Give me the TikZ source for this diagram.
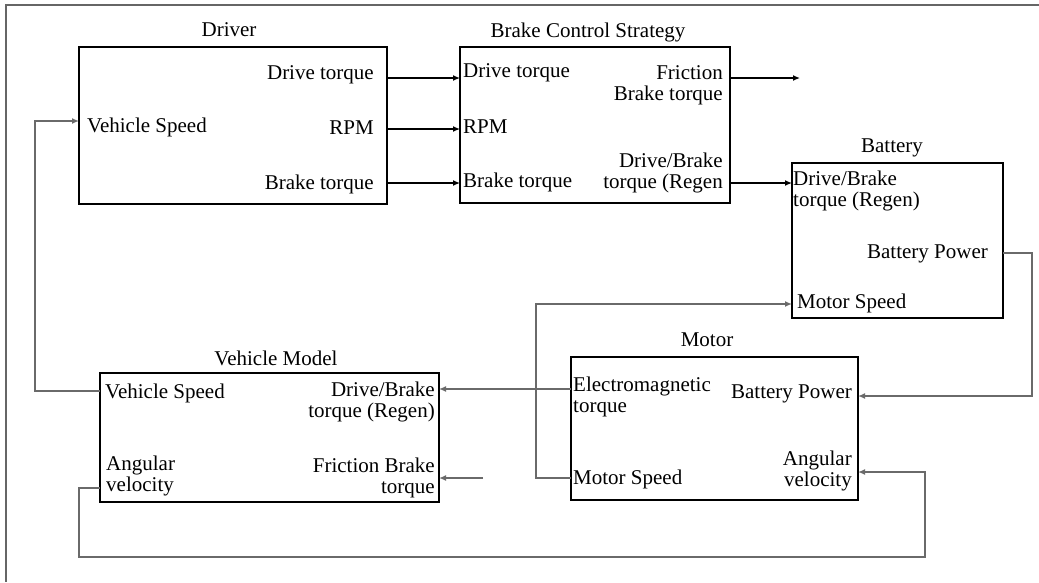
\documentclass[tikz,border=0pt]{standalone}
\usepackage{fontspec}
\setmainfont{Liberation Serif}
\usetikzlibrary{arrows.meta}
\definecolor{linegray}{HTML}{6A6A6A}
\definecolor{framegray}{HTML}{666666}
\begin{document}
\begin{tikzpicture}[x=1pt,y=-1pt,
  font=\fontsize{21}{21}\selectfont,
  blk/.style={draw=black,line width=2.7pt,inner sep=0pt,outer sep=0pt},
  ttl/.style={inner sep=0pt,anchor=base},
  lbl/.style={inner sep=0pt,align=left,anchor=base west},
  lblr/.style={inner sep=0pt,align=right,anchor=base east},
  arr/.style={-{Latex[length=7pt,width=6pt]},line width=1.3pt,draw=black},
  garr/.style={-{Latex[length=7pt,width=6pt]},line width=1.4pt,draw=linegray},
]
\useasboundingbox (0,0) rectangle (1039,582);
\draw[line width=1.6pt,draw=framegray] (1039,5) -- (6,5) -- (6,582);

% boxes
\node[blk,minimum width=308pt,minimum height=157pt] (drv) at (233,125.5) {};
\node[blk,minimum width=270pt,minimum height=156pt] (bcs) at (595,125) {};
\node[blk,minimum width=211pt,minimum height=155pt] (bat) at (897.5,240.5) {};
\node[blk,minimum width=287pt,minimum height=143pt] (mot) at (714.5,428.5) {};
\node[blk,minimum width=339pt,minimum height=129pt] (veh) at (269.5,437.5) {};

% titles
\node[ttl] (drvT) at (229,36) {Driver};
\node[ttl] (bcsT) at (588,37) {Brake Control Strategy};
\node[ttl] (batT) at (892,152) {Battery};
\node[ttl] (motT) at (707,346) {Motor};
\node[ttl] (vehT) at (276,365) {Vehicle Model};

% driver labels
\node[lblr] (drvL1) at (374,79) {Drive torque};
\node[lblr] (drvL2) at (374,134) {RPM};
\node[lblr] (drvL3) at (374,189) {Brake torque};
\node[lbl] (drvL4) at (87,132.5) {Vehicle Speed};

% brake control labels
\node[lbl] (bcsL1) at (463,77) {Drive torque};
\node[lbl] (bcsL2) at (463,133) {RPM};
\node[lbl] (bcsL3) at (463,187) {Brake torque};
\node[lblr] (bcsL4) at (723,100) {Friction\\Brake torque};
\node[lblr] (bcsL5) at (723,188) {Drive/Brake\\torque (Regen};

% battery labels
\node[lbl,fill=white] (batL1) at (793,206) {Drive/Brake\\torque (Regen)};
\node[lblr] (batL2) at (988,258) {Battery Power};
\node[lbl] (batL3) at (797,308) {Motor Speed};

% motor labels
\node[lbl] (motL1) at (573,412) {Electromagnetic\\torque};
\node[lblr] (motL2) at (852,398) {Battery Power};
\node[lblr] (motL3) at (852,486) {Angular\\velocity};
\node[lbl] (motL4) at (573,484) {Motor Speed};

% vehicle model labels
\node[lbl] (vehL1) at (105,398) {Vehicle Speed};
\node[lblr] (vehL2) at (435,417) {Drive/Brake\\torque (Regen)};
\node[lbl] (vehL3) at (106,491) {Angular\\velocity};
\node[lblr] (vehL4) at (435,493) {Friction Brake\\torque};

% free ends
\coordinate (fbout) at (800,78);
\coordinate (fbin) at (483,478);

% connectors
\draw[arr] (drv.east |- 0,78) -- (bcs.west |- 0,78);
\draw[arr] (drv.east |- 0,129) -- (bcs.west |- 0,129);
\draw[arr] (drv.east |- 0,183) -- (bcs.west |- 0,183);
\draw[arr] (bcs.east |- 0,78) -- (fbout);
\draw[arr] (bcs.east |- 0,183) -- (bat.west |- 0,183);
\draw[garr] (bat.east |- 0,253) -- ++(29,0) |- (mot.east |- 0,396);
\draw[garr] (mot.west |- 0,478) -- ++(-35,0) |- (bat.west |- 0,304);
\draw[garr] (mot.west |- 0,389) -- (veh.east |- 0,389);
\draw[garr] (veh.west |- 0,488) -- ++(-21,0) -- ++(0,69) -- ++(846,0) |- (mot.east |- 0,472);
\draw[garr] (veh.west |- 0,391) -- ++(-65,0) |- (drv.west |- 0,121);
\draw[garr] (fbin) -- (veh.east |- 0,478);
\end{tikzpicture}
\end{document}
